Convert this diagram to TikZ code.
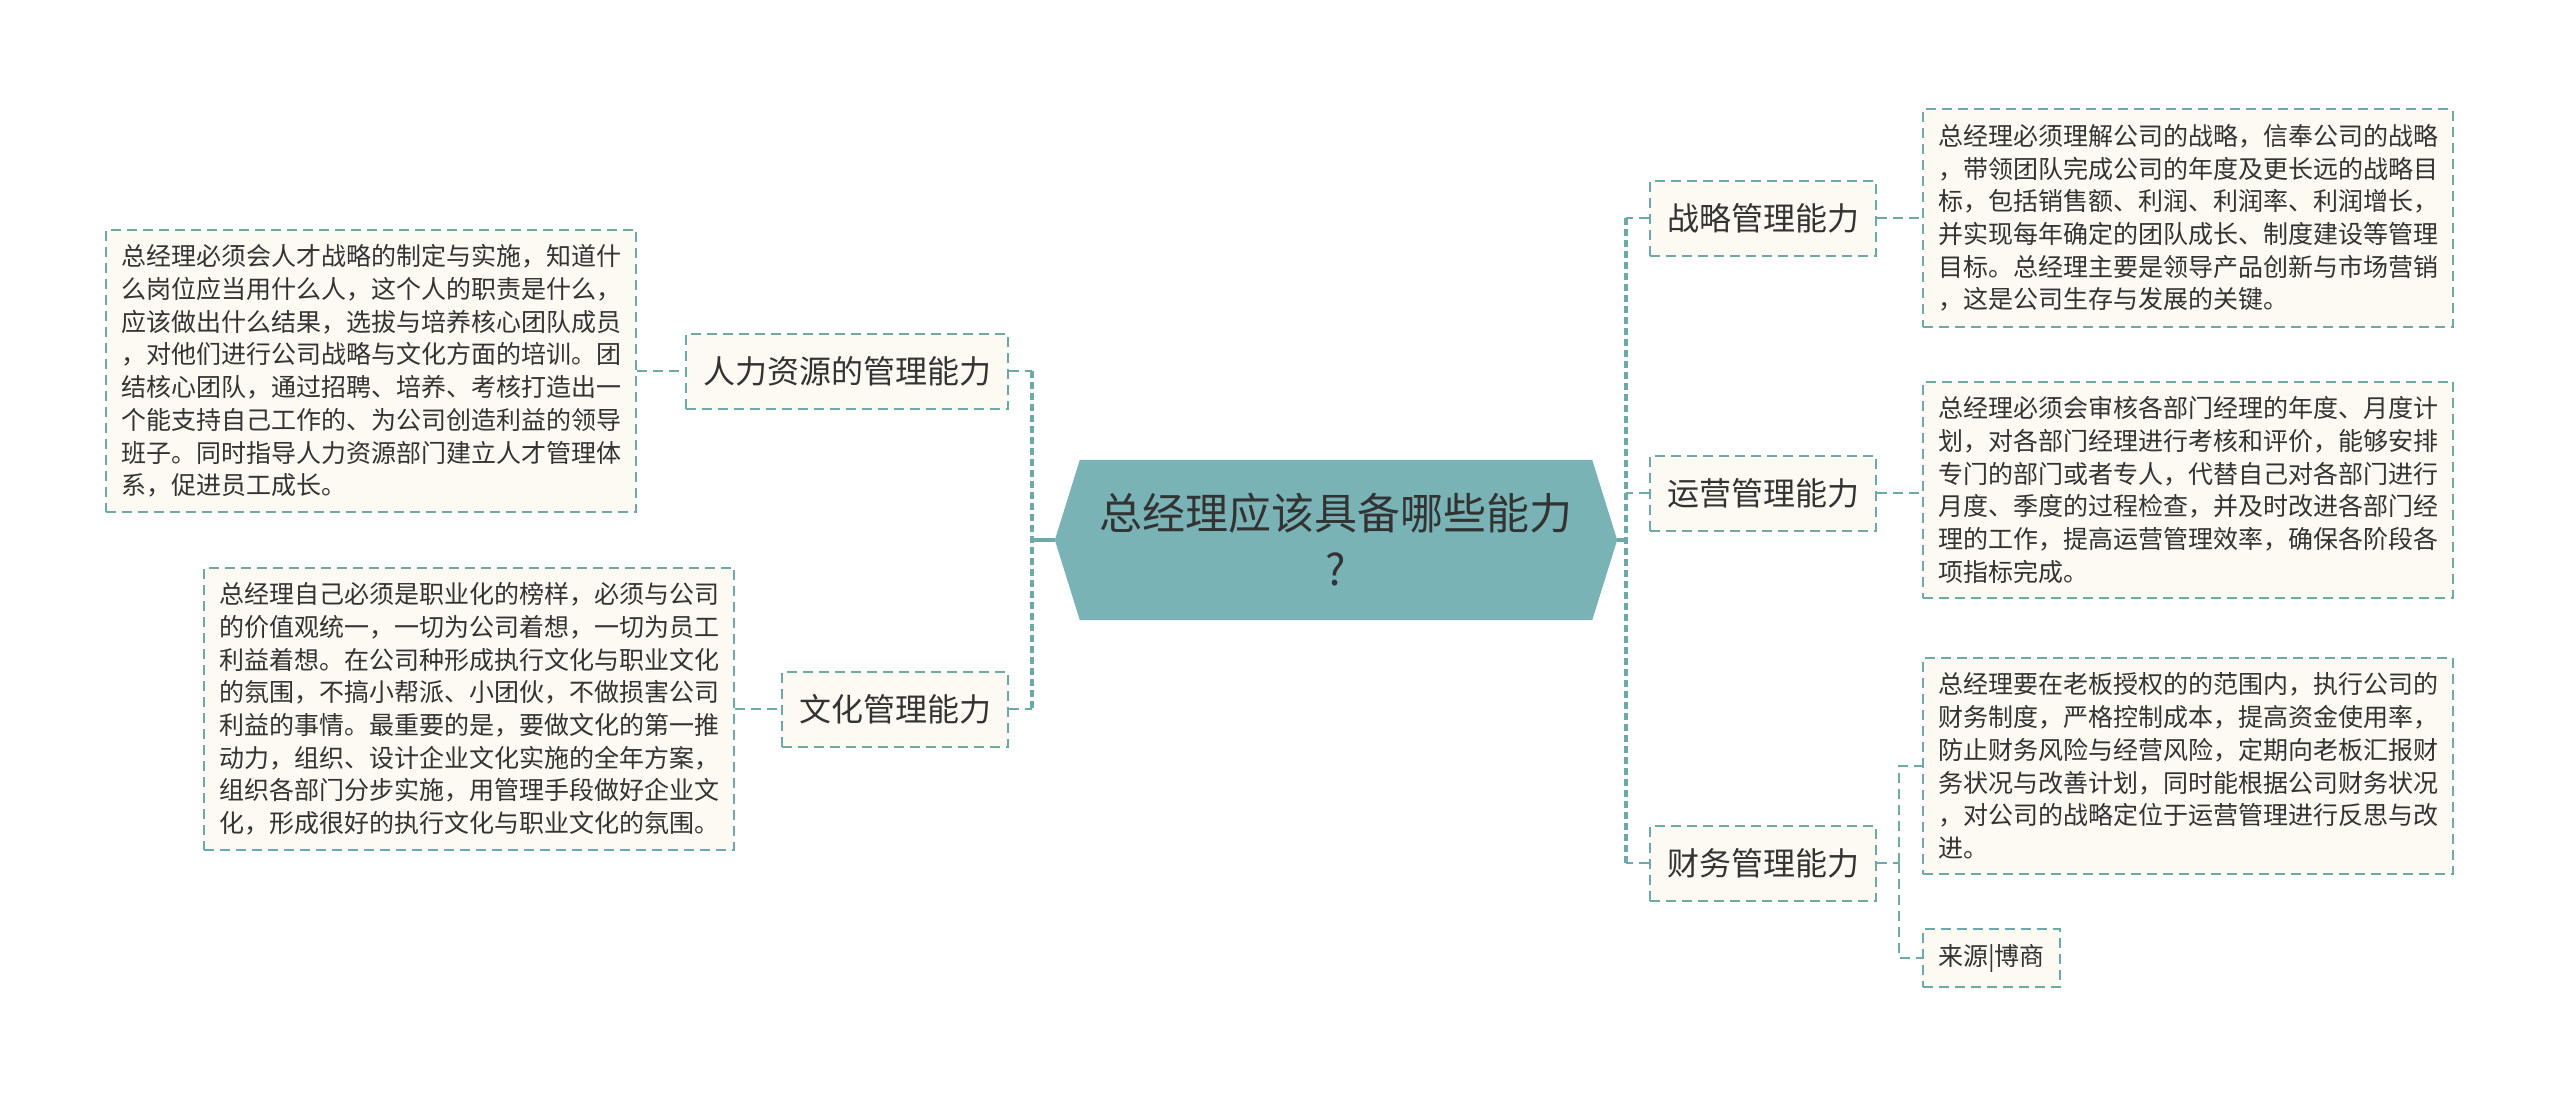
\documentclass[tikz,border=0pt]{standalone}
\usepackage{fontspec}
\setmainfont{Noto Sans CJK SC}
\usepackage{tikz}
\usetikzlibrary{backgrounds}
\definecolor{rootcol}{HTML}{7AB3B5}
\definecolor{linecol}{HTML}{6EA9AA}
\definecolor{boxcol}{HTML}{FCFAF3}
\definecolor{txtcol}{HTML}{333333}
\tikzset{
  roottext/.style={minimum width=512pt, minimum height=160pt, align=center,
    text=txtcol, font=\fontsize{43}{56}\selectfont},
  branch/.style={draw=linecol, line width=2pt, dash pattern=on 10pt off 6pt,
    fill=boxcol, inner xsep=17pt, minimum height=75pt, text=txtcol,
    font=\fontsize{32}{38}\selectfont},
  leaf/.style={branch, align=left, inner xsep=15pt, inner ysep=15pt,
    minimum height=0pt, font=\fontsize{25}{32.7}\selectfont},
  stem/.style={draw=linecol, line width=4pt},
  trunk/.style={draw=linecol, line width=4pt, dash pattern=on 7pt off 4pt},
  tie/.style={draw=linecol, line width=2pt, dash pattern=on 10pt off 6pt},
}

\begin{document}
\begin{tikzpicture}[x=1pt,y=-1pt]
    \useasboundingbox (0,0) rectangle (2560,1095);
    \node[roottext] (root) at (1336,540) {总经理应该具备哪些能力\\?};
    \begin{scope}[on background layer]% hexagon behind the title
      \fill[rootcol] (root.north west) -- (root.north east) -- ([xshift=25pt]root.east)
        -- (root.south east) -- (root.south west) -- ([xshift=-25pt]root.west) -- cycle;
    \end{scope}
    \coordinate (rootL) at ([xshift=-25pt]root.west);
    \coordinate (rootR) at ([xshift=25pt]root.east);
    \coordinate (lt) at (1032,540);% left trunk
    \coordinate (rt) at (1626,540);% right trunk
    \coordinate (fj) at (1899,863);% finance joint

    % branches
    \node[branch, anchor=east] (hr) at (1009,371) {人力资源的管理能力};
    \node[branch, anchor=east] (culture) at (1009,709) {文化管理能力};
    \node[branch, anchor=west] (strategy) at (1649,218) {战略管理能力};
    \node[branch, anchor=west] (operation) at (1649,493) {运营管理能力};
    \node[branch, anchor=west] (finance) at (1649,863) {财务管理能力};

    % leaves
    \node[leaf, anchor=east] (hrText) at (637,371) {总经理必须会人才战略的制定与实施，知道什\\么岗位应当用什么人，这个人的职责是什么，\\应该做出什么结果，选拔与培养核心团队成员\\，对他们进行公司战略与文化方面的培训。团\\结核心团队，通过招聘、培养、考核打造出一\\个能支持自己工作的、为公司创造利益的领导\\班子。同时指导人力资源部门建立人才管理体\\系，促进员工成长。};
    \node[leaf, anchor=east] (cultureText) at (735,709) {总经理自己必须是职业化的榜样，必须与公司\\的价值观统一，一切为公司着想，一切为员工\\利益着想。在公司种形成执行文化与职业文化\\的氛围，不搞小帮派、小团伙，不做损害公司\\利益的事情。最重要的是，要做文化的第一推\\动力，组织、设计企业文化实施的全年方案，\\组织各部门分步实施，用管理手段做好企业文\\化，形成很好的执行文化与职业文化的氛围。};
    \node[leaf, anchor=west] (strategyText) at (1922,218) {总经理必须理解公司的战略，信奉公司的战略\\，带领团队完成公司的年度及更长远的战略目\\标，包括销售额、利润、利润率、利润增长，\\并实现每年确定的团队成长、制度建设等管理\\目标。总经理主要是领导产品创新与市场营销\\，这是公司生存与发展的关键。};
    \node[leaf, anchor=west] (operationText) at (1922,490) {总经理必须会审核各部门经理的年度、月度计\\划，对各部门经理进行考核和评价，能够安排\\专门的部门或者专人，代替自己对各部门进行\\月度、季度的过程检查，并及时改进各部门经\\理的工作，提高运营管理效率，确保各阶段各\\项指标完成。};
    \node[leaf, anchor=west] (financeText) at (1922,766) {总经理要在老板授权的的范围内，执行公司的\\财务制度，严格控制成本，提高资金使用率，\\防止财务风险与经营风险，定期向老板汇报财\\务状况与改善计划，同时能根据公司财务状况\\，对公司的战略定位于运营管理进行反思与改\\进。};
    \node[leaf, anchor=west] (source) at (1922,958) {来源|博商};

    % connectors
    \draw[stem] (rootL) -- (lt);
    \draw[stem] (rootR) -- (rt);
    \draw[trunk] (lt |- hr.east) -- (lt |- culture.east);
    \draw[trunk] (rt |- strategy.west) -- (rt |- finance.west);
    \foreach \b in {hr,culture}
      \draw[tie] (\b.east) -- (lt |- \b.east);
    \foreach \b in {strategy,operation,finance}
      \draw[tie] (\b.west) -- (rt |- \b.west);
    \draw[tie] (hrText.east) -- (hr.west);
    \draw[tie] (cultureText.east) -- (culture.west);
    \draw[tie] (strategy.east) -- (strategyText.west |- strategy.east);
    \draw[tie] (operation.east) -- (operationText.west |- operation.east);
    \draw[tie] (finance.east) -- (fj);
    \draw[tie] (fj) |- (financeText.west);
    \draw[tie] (fj) |- (source.west);
\end{tikzpicture}
\end{document}
